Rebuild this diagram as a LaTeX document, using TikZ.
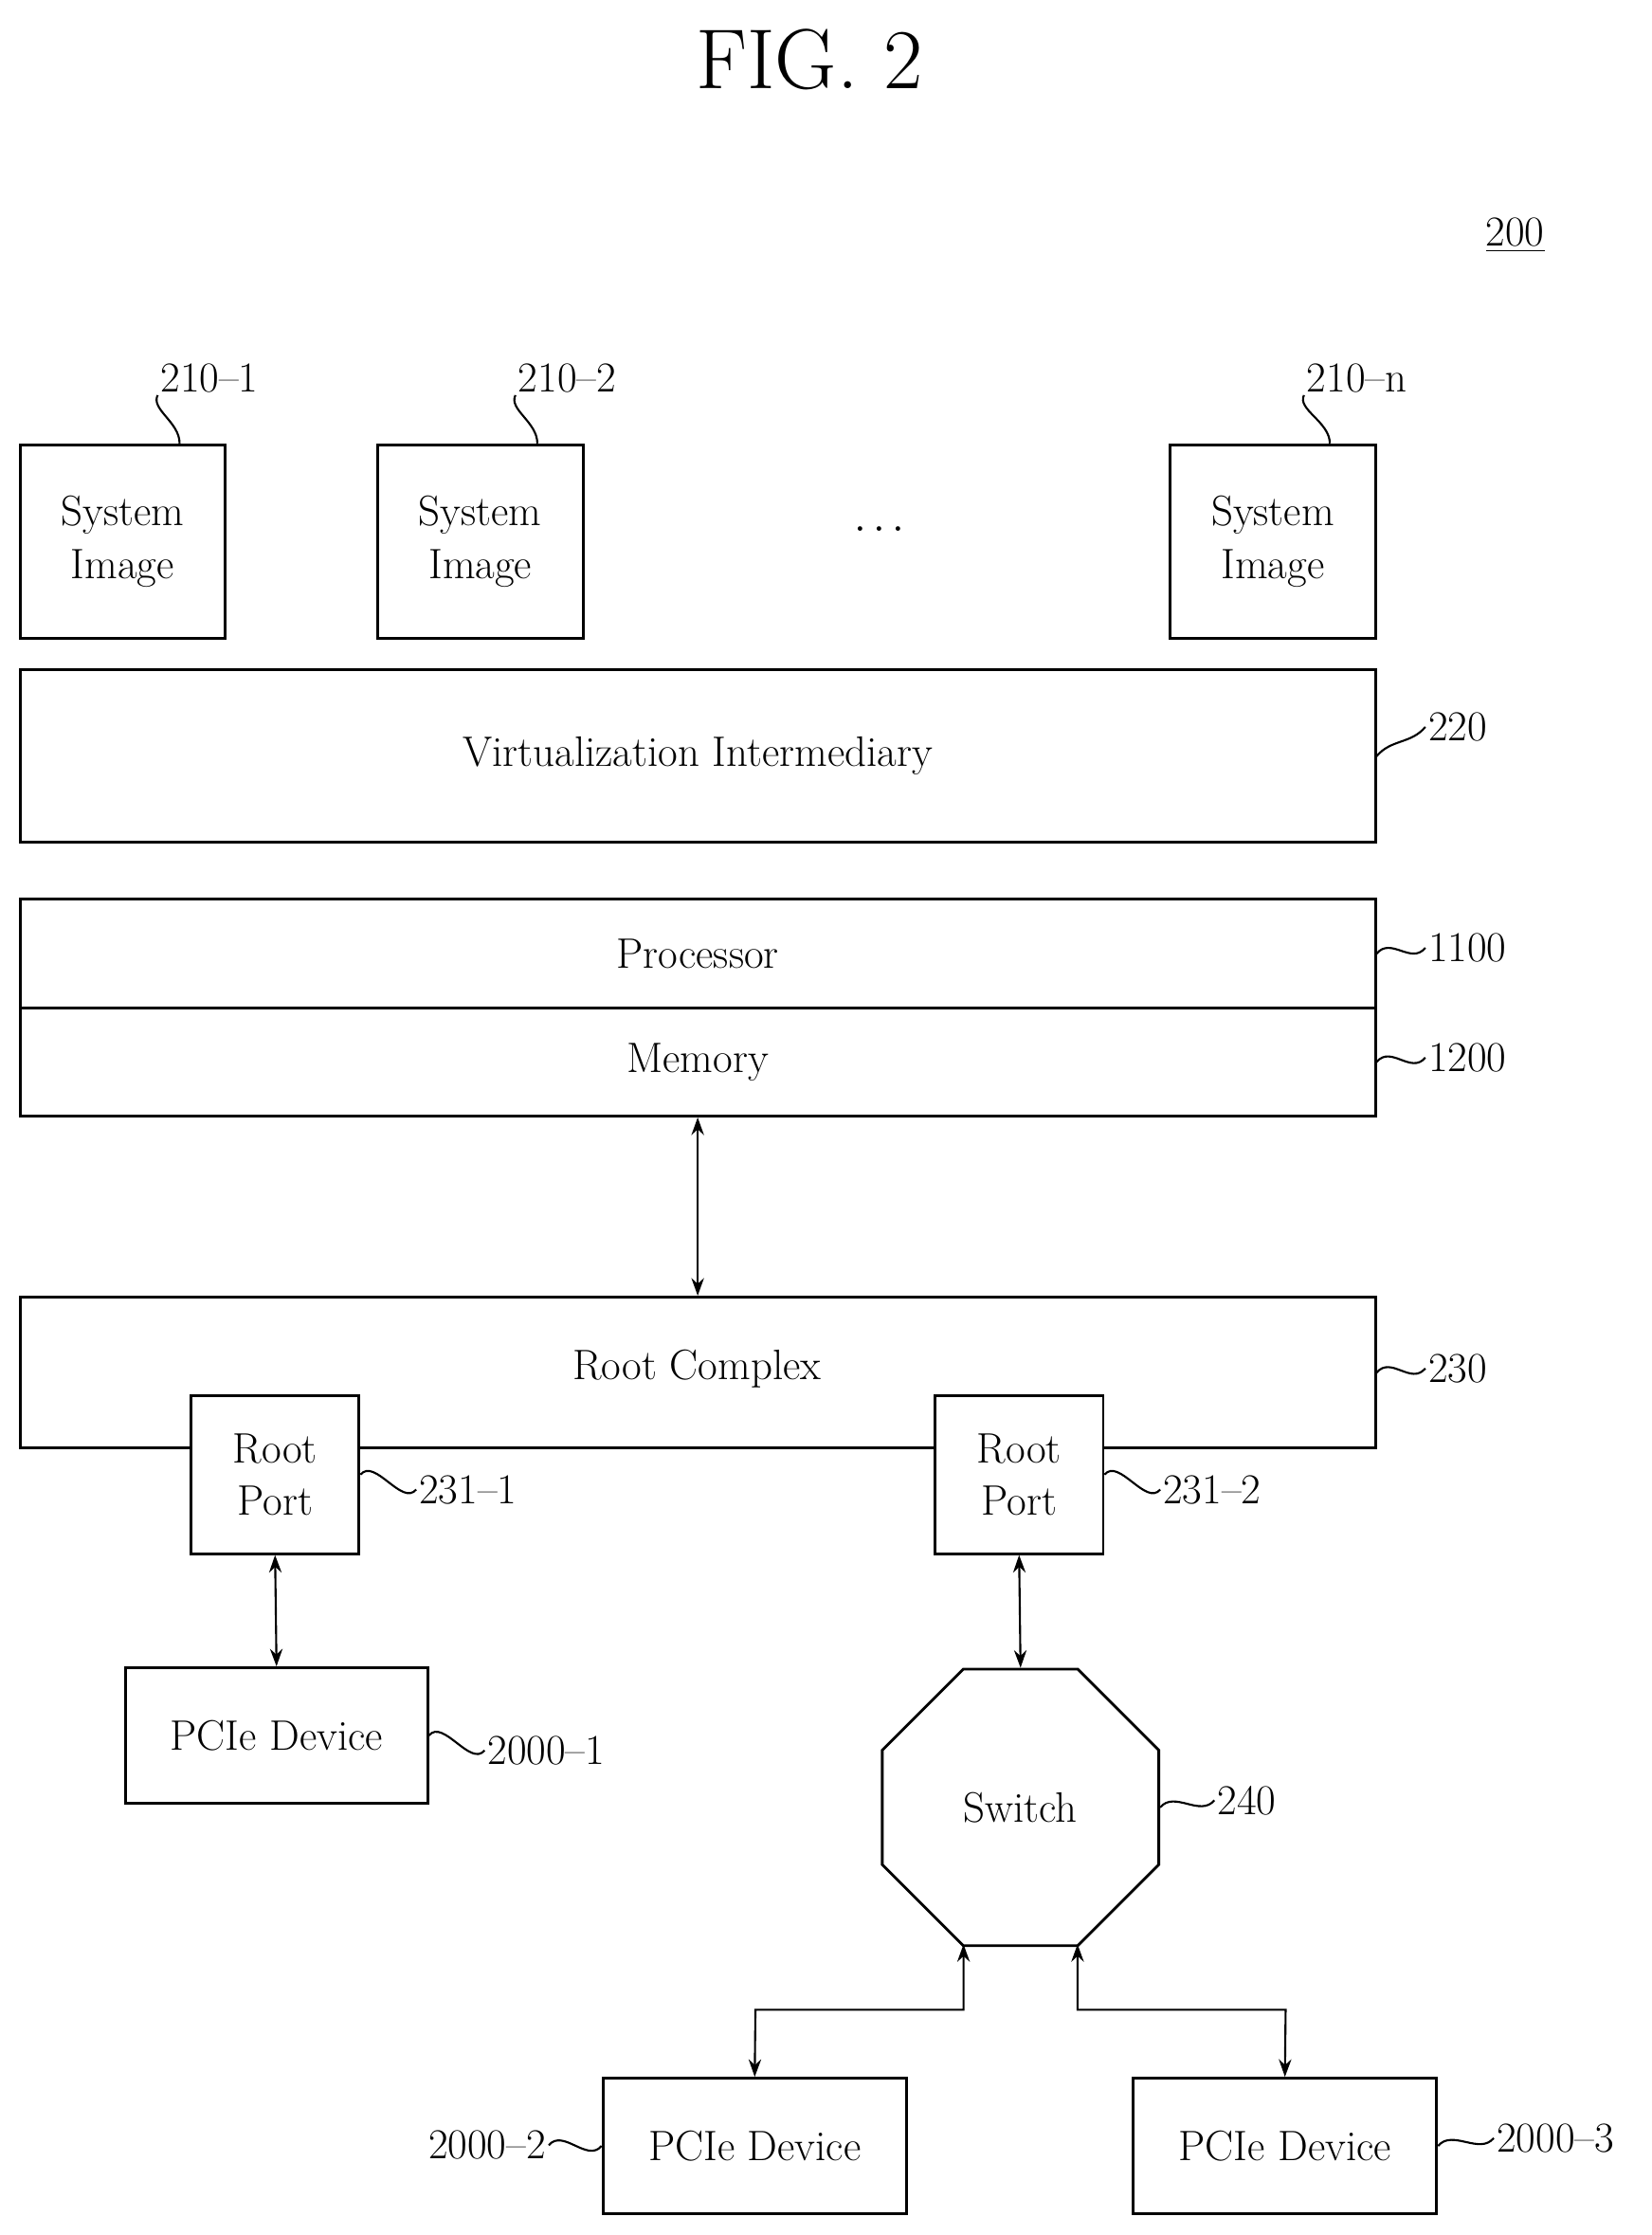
\documentclass[tikz,border=0pt]{standalone}
\usetikzlibrary{shapes.geometric,arrows.meta}
\begin{document}
\begin{tikzpicture}[x=0.02cm,y=-0.02cm,
  box/.style={draw,line width=1.1pt,fill=white,inner sep=0,align=center,font=\fontsize{17}{21}\selectfont},
  lbl/.style={font=\fontsize{17}{20}\selectfont,inner sep=1pt},
  lead/.style={line width=0.8pt},
  dar/.style={line width=0.8pt,{Stealth[length=7pt,width=5pt]}-{Stealth[length=7pt,width=5pt]}}]
\useasboundingbox (0,0) rectangle (1159,1568);
\node[font=\fontsize{34}{40}\selectfont] (title) at (568,42) {FIG. 2};
\node[lbl] (n200) at (1063,165) {\underline{200}};
% system images
\node[box,minimum width=2.88cm,minimum height=2.72cm] (s1) at (86,380) {System\\Image};
\node[box,minimum width=2.88cm,minimum height=2.72cm] (s2) at (337,380) {System\\Image};
\node[box,minimum width=2.88cm,minimum height=2.72cm] (sn) at (893,380) {System\\Image};
\node[font=\fontsize{17}{20}\selectfont] (dots) at (617,372) {$\cdots$};
\node[lbl] (l1) at (147,265) {210--1};
\node[lbl] (l2) at (398,265) {210--2};
\node[lbl] (ln) at (952,265) {210--n};
\draw[lead] (s1.north)++(40,0) coordinate (c1) .. controls +(0,-15) and +(-5,10) .. (l1.south west);
\draw[lead] (s2.north)++(40,0) coordinate (c2) .. controls +(0,-15) and +(-5,10) .. (l2.south west);
\draw[lead] (sn.north)++(40,0) coordinate (c3) .. controls +(0,-15) and +(-5,10) .. (ln.south west);
% virtualization
\node[box,minimum width=19.02cm,minimum height=2.42cm] (vi) at (489.5,530.5) {Virtualization Intermediary};
\node[lbl,anchor=west] (l220) at (1000,510) {220};
\draw[lead] (vi.east) .. controls +(10,-12) and +(-10,12) .. (l220.west);
% processor memory
\node[box,minimum width=19.02cm,minimum height=1.52cm] (pr) at (489.5,669) {Processor};
\node[box,minimum width=19.02cm,minimum height=1.52cm] (me) at (489.5,745) {Memory};
\node[lbl,anchor=west] (l1100) at (1000,665) {1100};
\node[lbl,anchor=west] (l1200) at (1000,742) {1200};
\draw[lead] (pr.east) .. controls +(10,-12) and +(-10,12) .. (l1100.west);
\draw[lead] (me.east) .. controls +(10,-12) and +(-10,12) .. (l1200.west);
% root complex
\node[box,minimum width=19.02cm,minimum height=2.12cm,anchor=north] (rc) at (489.5,909) {};
\node[font=\fontsize{17}{21}\selectfont] (rct) at (489,960) {Root Complex};
\node[lbl,anchor=west] (l230) at (1000,960) {230};
\draw[lead] (rc.east) .. controls +(10,-12) and +(-10,12) .. (l230.west);
\draw[dar] (me.south) -- (rc.north);
\node[box,minimum width=2.36cm,minimum height=2.22cm] (rp1) at (193,1034.5) {Root\\Port};
\node[box,minimum width=2.36cm,minimum height=2.22cm] (rp2) at (715,1034.5) {Root\\Port};
\node[lbl,anchor=west] (l231a) at (292,1045) {231--1};
\node[lbl,anchor=west] (l231b) at (814,1045) {231--2};
\draw[lead] (rp1.east) .. controls +(10,-12) and +(-10,12) .. (l231a.west);
\draw[lead] (rp2.east) .. controls +(10,-12) and +(-10,12) .. (l231b.west);
% pcie 1
\node[box,minimum width=4.24cm,minimum height=1.9cm] (p1) at (194,1217.5) {PCIe Device};
\node[lbl,anchor=west] (lp1) at (340,1228) {2000--1};
\draw[lead] (p1.east) .. controls +(10,-12) and +(-10,12) .. (lp1.west);
\draw[dar] (rp1.south) -- (p1.north);
% switch
\node[draw,line width=1.1pt,regular polygon,regular polygon sides=8,minimum size=4.2cm,inner sep=0,font=\fontsize{17}{21}\selectfont] (sw) at (716,1268) {Switch};
\node[lbl,anchor=west] (l240) at (852,1263) {240};
\draw[lead] (sw.east) .. controls +(10,-12) and +(-10,12) .. (l240.west);
\draw[dar] (rp2.south) -- (sw.north);
% pcie 2,3
\node[box,minimum width=4.26cm,minimum height=1.9cm] (p2) at (529.5,1505.5) {PCIe Device};
\node[box,minimum width=4.26cm,minimum height=1.9cm] (p3) at (901.5,1505.5) {PCIe Device};
\node[lbl,anchor=east] (lp2) at (385,1505) {2000--2};
\node[lbl,anchor=west] (lp3) at (1048,1500) {2000--3};
\draw[lead] (p2.west) .. controls +(-10,12) and +(10,-12) .. (lp2.east);
\draw[lead] (p3.east) .. controls +(10,-12) and +(-10,12) .. (lp3.west);
\coordinate (sb1) at (676,1364);
\coordinate (sb2) at (756,1364);
\draw[dar] (sb1) |- (530,1410) -- (p2.north);
\draw[dar] (sb2) |- (902,1410) -- (p3.north);
\end{tikzpicture}
\end{document}
